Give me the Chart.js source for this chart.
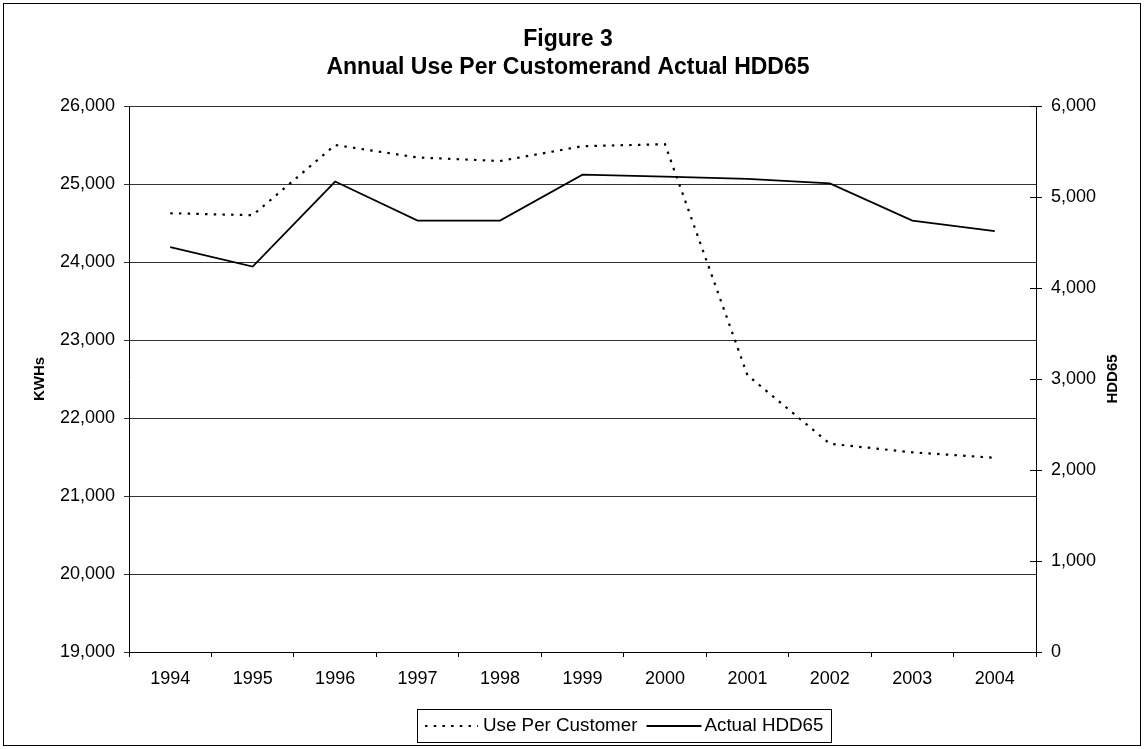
<!DOCTYPE html>
<html>
<head>
<meta charset="utf-8">
<title>Figure 3</title>
<script src="https://cdn.jsdelivr.net/npm/chart.js@4.4.1/dist/chart.umd.min.js"></script>
<style>
  html, body { margin: 0; padding: 0; background: #fff; }
  canvas { display: block; }
</style>
</head>
<body>
<canvas id="chart" width="1144" height="749"></canvas>
<script>
// Categories and series
const years = ['1994', '1995', '1996', '1997', '1998', '1999', '2000', '2001', '2002', '2003', '2004'];
const usePerCustomer = [24625, 24600, 25500, 25340, 25295, 25485, 25510, 22550, 21670, 21560, 21490]; // KWHs
const actualHDD65 = [4450, 4235, 5170, 4740, 4740, 5245, 5225, 5200, 5150, 4740, 4625];               // HDD65

// Axis ranges
const kwhRange = { min: 19000, max: 26000, step: 1000 };
const hddRange = { min: 0, max: 6000, step: 1000 };

// Texts
const titleLines = ['Figure 3', 'Annual Use Per Customerand Actual HDD65'];
const seriesNames = ['Use Per Customer', 'Actual HDD65'];
const leftAxisTitle = 'KWHs';
const rightAxisTitle = 'HDD65';

const FAMILY = '"Liberation Sans", Arial, Helvetica, sans-serif';
const tickFont = { family: FAMILY, size: 18 };

const dottedStyle = { width: 2.2, dash: [2.5, 6.2] };
const solidStyle = { width: 1.8 };

// Frame, title, axis titles, inner right-axis ticks and boxed legend
const decorations = {
  id: 'decorations',
  afterDraw(chart) {
    const ctx = chart.ctx;
    const area = chart.chartArea;
    ctx.save();

    // outer frame
    ctx.strokeStyle = '#000';
    ctx.lineWidth = 1;
    ctx.setLineDash([]);
    ctx.strokeRect(3.5, 3.5, chart.width - 7, chart.height - 7);

    // title
    ctx.fillStyle = '#000';
    ctx.textAlign = 'center';
    ctx.textBaseline = 'middle';
    ctx.font = 'bold 23px ' + FAMILY;
    ctx.fillText(titleLines[0], 568, 40);
    ctx.fillText(titleLines[1], 568, 68);

    // axis titles, both reading bottom to top
    ctx.font = 'bold 15px ' + FAMILY;
    const midY = (area.top + area.bottom) / 2;
    ctx.save();
    ctx.translate(40, midY);
    ctx.rotate(-Math.PI / 2);
    ctx.fillText(leftAxisTitle, 0, 0);
    ctx.restore();
    ctx.save();
    ctx.translate(1113, midY);
    ctx.rotate(-Math.PI / 2);
    ctx.fillText(rightAxisTitle, 0, 0);
    ctx.restore();

    // right axis tick marks cross the axis line
    const yR = chart.scales.yR;
    ctx.beginPath();
    yR.ticks.forEach(t => {
      const py = Math.round(yR.getPixelForValue(t.value)) + 0.5;
      ctx.moveTo(area.right - 6, py);
      ctx.lineTo(area.right, py);
    });
    ctx.stroke();

    // legend
    const ly = 726;
    ctx.font = '18.8px ' + FAMILY;
    ctx.textAlign = 'left';
    let x = 425;
    ctx.lineWidth = dottedStyle.width;
    ctx.setLineDash(dottedStyle.dash);
    ctx.beginPath();
    ctx.moveTo(x, ly); ctx.lineTo(x + 53, ly);
    ctx.stroke();
    x += 58;
    ctx.fillText(seriesNames[0], x, ly);
    x += ctx.measureText(seriesNames[0]).width + 9;
    ctx.setLineDash([]);
    ctx.lineWidth = solidStyle.width;
    ctx.beginPath();
    ctx.moveTo(x, ly); ctx.lineTo(x + 55, ly);
    ctx.stroke();
    x += 58;
    ctx.fillText(seriesNames[1], x, ly);
    x += ctx.measureText(seriesNames[1]).width + 8;
    ctx.lineWidth = 1;
    ctx.strokeRect(417.5, 709.5, Math.round(x - 417), 33);

    ctx.restore();
  }
};

new Chart(document.getElementById('chart'), {
  type: 'line',
  data: {
    labels: years,
    datasets: [
      {
        label: seriesNames[0],
        data: usePerCustomer,
        yAxisID: 'y',
        borderColor: '#000',
        borderWidth: dottedStyle.width,
        borderDash: dottedStyle.dash,
        tension: 0,
        pointRadius: 0,
        fill: false
      },
      {
        label: seriesNames[1],
        data: actualHDD65,
        yAxisID: 'yR',
        borderColor: '#000',
        borderWidth: solidStyle.width,
        tension: 0,
        pointRadius: 0,
        fill: false
      }
    ]
  },
  options: {
    responsive: false,
    animation: false,
    devicePixelRatio: 1,
    layout: { padding: { top: 106, left: 0, right: 0, bottom: 0 } },
    plugins: {
      legend: { display: false },
      title: { display: false },
      tooltip: { enabled: false }
    },
    scales: {
      x: {
        type: 'category',
        offset: true,
        grid: { offset: true, drawOnChartArea: false, tickLength: 5, color: '#000' },
        border: { color: '#000', width: 1 },
        ticks: { font: tickFont, color: '#000', padding: 11, maxRotation: 0, autoSkip: false },
        afterFit(scale) { scale.height = 97; }
      },
      y: {
        position: 'left',
        min: kwhRange.min,
        max: kwhRange.max,
        ticks: { stepSize: kwhRange.step, font: tickFont, color: '#000', padding: 9 },
        grid: { color: '#333', tickLength: 5 },
        border: { color: '#000', width: 1 },
        afterFit(scale) { scale.width = 129; }
      },
      yR: {
        position: 'right',
        min: hddRange.min,
        max: hddRange.max,
        ticks: { stepSize: hddRange.step, font: tickFont, color: '#000', padding: 9 },
        grid: { drawOnChartArea: false, tickLength: 6, color: '#000' },
        border: { color: '#000', width: 1 },
        afterFit(scale) { scale.width = 108; }
      }
    }
  },
  plugins: [decorations]
});
</script>
</body>
</html>
